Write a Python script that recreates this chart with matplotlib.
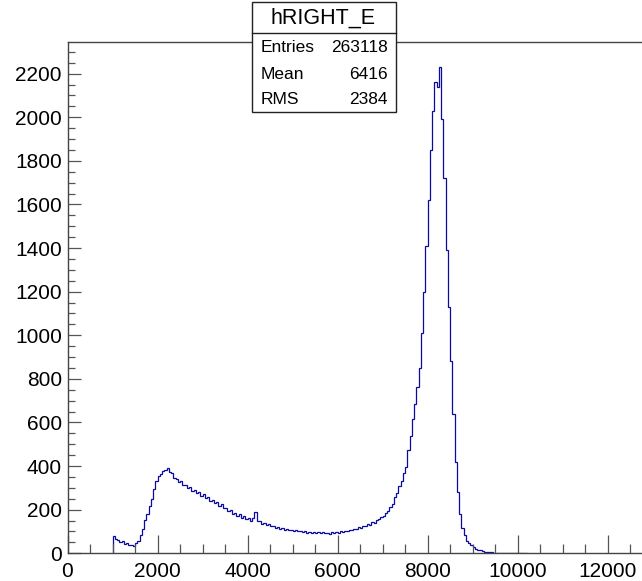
import numpy as np
import matplotlib
matplotlib.use('Agg')
import matplotlib.pyplot as plt
from matplotlib.patches import Rectangle
from matplotlib.lines import Line2D
from matplotlib.ticker import MultipleLocator

# ---------------- data ----------------
bin_start = 1000
bin_width = 50
counts = [
    80, 66, 62, 52, 55, 44, 46, 37, 40, 33,            # 1000-1450
    45, 58, 85, 112, 152, 178, 215, 248, 295, 332,     # 1500-1950
    355, 362, 378, 380, 392, 372, 368, 345, 342, 328,  # 2000-2450
    330, 312, 315, 298, 302, 286, 292, 275, 280, 264,  # 2500-2950
    270, 252, 258, 242, 246, 230, 236, 218, 224, 206,  # 3000-3450
    210, 194, 198, 182, 186, 172, 178, 164, 170, 158,  # 3500-3950
    162, 150, 160, 188, 146, 148, 136, 140, 130, 134,  # 4000-4450
    124, 127, 118, 122, 113, 117, 109, 113, 105, 109,  # 4500-4950
    102, 106, 100, 104, 97, 101, 95, 99, 94, 98,       # 5000-5450
    93, 97, 92, 96, 91, 95, 89, 96, 91, 97,            # 5500-5950
    94, 100, 97, 104, 101, 108, 105, 113, 110, 119,    # 6000-6450
    116, 126, 124, 134, 132, 143, 141, 155, 156, 168,  # 6500-6950
    170, 184, 196, 214, 228, 258, 276, 310, 332, 370,  # 7000-7450
    398, 472, 540, 618, 685, 765, 850, 1010, 1200, 1410,   # 7500-7950
    1620, 1850, 2030, 2160, 2140, 2230, 1990, 1720, 1390, 1130,  # 8000-8450
    880, 640, 420, 280, 178, 115, 82, 58, 45, 36,      # 8500-8950
    28, 22, 17, 13, 10, 8, 6, 5, 4, 3,                 # 9000-9450
    3, 2, 2, 2, 1, 1, 1, 1, 1, 1,                      # 9500-9950
    1, 1, 0, 1,                                        # 10000-10150
]
hist_name = "hRIGHT_E"
stats_labels = ["Entries", "Mean", "RMS"]
stats_values = ["263118", "6416", "2384"]
x_max = 12760
y_max = 2345

# ---------------- figure ----------------
plt.rcParams['font.family'] = ['Liberation Sans', 'DejaVu Sans']
W, H = 642, 581
fig = plt.figure(figsize=(W / 100, H / 100), dpi=100)


def fx(px):
    return px / W


def fy(py):
    return 1 - py / H


left_px, bottom_px, top_px = 67.5, 553.3, 42.0
ax = fig.add_axes([fx(left_px), fy(bottom_px), 1 - fx(left_px),
                   fy(top_px) - fy(bottom_px)])

edges = bin_start + bin_width * np.arange(len(counts) + 1)
ax.stairs(counts, edges, baseline=0, fill=False, color='#0a0a9e', lw=0.9)

ax.set_xlim(0, x_max)
ax.set_ylim(0, y_max)

ax.xaxis.set_major_locator(MultipleLocator(2000))
ax.xaxis.set_minor_locator(MultipleLocator(500))
ax.yaxis.set_major_locator(MultipleLocator(200))
ax.yaxis.set_minor_locator(MultipleLocator(50))

tick_col = '#555555'
ax.tick_params(axis='x', which='major', direction='in', length=13, width=0.9,
               color=tick_col, labelsize=15, pad=6)
ax.tick_params(axis='x', which='minor', direction='in', length=6.5, width=0.9,
               color=tick_col)
ax.tick_params(axis='y', which='major', direction='in', length=9.5, width=0.9,
               color=tick_col, labelsize=15, pad=4)
ax.tick_params(axis='y', which='minor', direction='in', length=5, width=0.9,
               color=tick_col)

for s in ['left', 'bottom', 'top']:
    ax.spines[s].set_color('#444444')
    ax.spines[s].set_linewidth(1.0)
ax.spines['right'].set_visible(False)

# ---------------- stats box ----------------
bx0, bx1, by0, by1, bdiv = 251.5, 395.5, 2.5, 111.5, 33.0
fig.add_artist(Rectangle((fx(bx0), fy(by1)), fx(bx1) - fx(bx0), fy(by0) - fy(by1),
                         transform=fig.transFigure, facecolor='white',
                         edgecolor='#222222', lw=1.0, zorder=5))
fig.add_artist(Line2D([fx(bx0), fx(bx1)], [fy(bdiv), fy(bdiv)],
                      transform=fig.transFigure, color='#222222', lw=1.0, zorder=6))
fig.text(fx((bx0 + bx1) / 2), fy(18.5), hist_name, ha='center', va='center',
         fontsize=15.5, zorder=7)
row_y = [47.5, 74.0, 100.0]
for lab, val, yy in zip(stats_labels, stats_values, row_y):
    fig.text(fx(261), fy(yy), lab, ha='left', va='center', fontsize=12.5, zorder=7)
    fig.text(fx(387.5), fy(yy), val, ha='right', va='center', fontsize=12.5, zorder=7)

fig.savefig('out.png', dpi=100)
